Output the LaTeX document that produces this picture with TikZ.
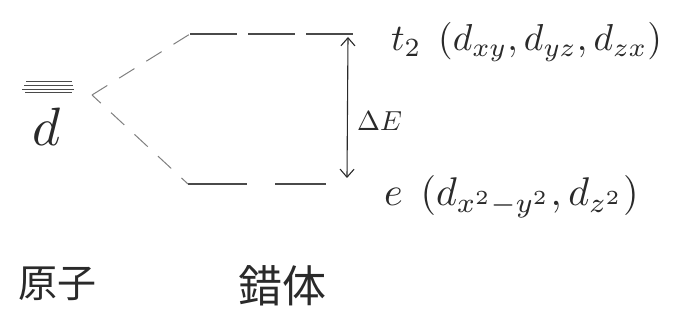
\documentclass[tikz,border=0pt]{standalone}
\usepackage{fontspec}
\usepackage{graphicx}
\newfontfamily\cjk{Noto Sans CJK JP}
\usetikzlibrary{arrows.meta}
\definecolor{pencil}{HTML}{4A4A4A}
\definecolor{ink}{HTML}{2A2A2A}
\tikzset{
  level/.style={pencil, line width=1.3pt},
  conn/.style={pencil!70, line width=1pt, dash pattern=on 18pt off 14pt},
  lbl/.style={ink, inner sep=0pt, anchor=west},
}
\begin{document}
\begin{tikzpicture}[x=1pt,y=-1pt]
\useasboundingbox[fill=white] (0,0) rectangle (686,320);
% atom d levels
\foreach \yy/\xa/\xb in {81/26/72, 85/24/73, 89/22/74, 92/25/72}
  \draw[level, line width=0.9pt] (\xa,\yy) -- (\xb,\yy);
\node[ink, inner sep=0pt] (dlab) at (47,127) {\scalebox{5.4}{$d$}};
% split point
\coordinate (s) at (92,95);
% t2 level
\coordinate (t2a) at (190,34);
\coordinate (t2b) at (355,34);
\draw[level, dash pattern=on 47pt off 11pt] (t2a) -- (t2b);
% e level
\coordinate (ea) at (188,184);
\coordinate (eb) at (326,184);
\draw[level, dash pattern=on 59pt off 28pt] (ea) -- (eb);
% connectors
\draw[conn] (s) -- (t2a);
\draw[conn, dash phase=6pt] (s) -- (ea);
% splitting arrow
\draw[ink, line width=1.1pt, {Straight Barb[length=8pt,width=14pt]}-{Straight Barb[length=8pt,width=14pt]}] (348,37) -- (347,178);
\node[lbl] (dE) at (357,121) {\scalebox{2.75}{$\Delta E$}};
% labels
\node[lbl] (t2lab) at (391,42) {\scalebox{3.75}{$t_2\;\,(d_{xy},d_{yz},d_{zx})$}};
\node[lbl] (elab) at (384,197) {\scalebox{4.0}{$e\;\,(d_{x^2-y^2},d_{z^2})$}};
\node[ink, font=\cjk\fontsize{39}{41}\selectfont] (atom) at (58,284) {原子};
\node[ink, font=\cjk\fontsize{44}{46}\selectfont] (cplx) at (282,286) {錯体};
\end{tikzpicture}
\end{document}
